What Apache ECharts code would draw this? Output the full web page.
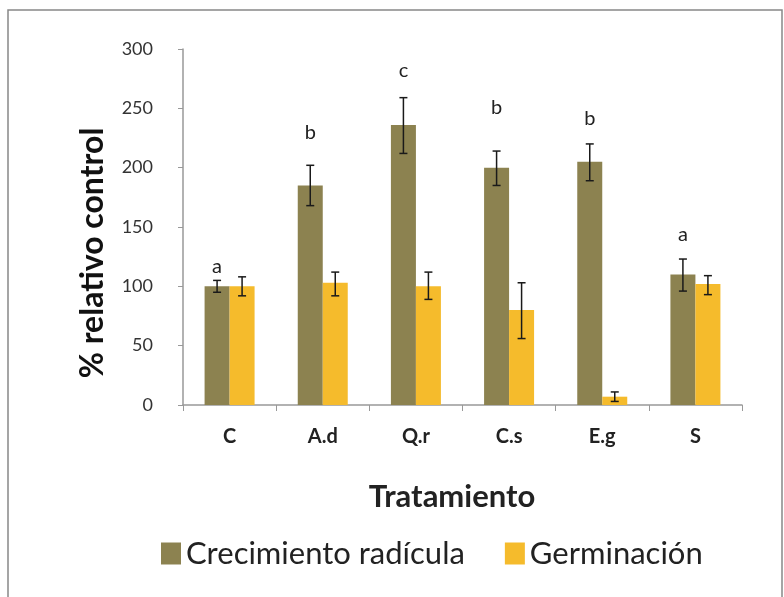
<!DOCTYPE html>
<html><head><meta charset="utf-8">
<script src="https://cdn.jsdelivr.net/npm/echarts@6/dist/echarts.min.js"></script>
<style>html,body{margin:0;padding:0;background:#fff}#c{width:784px;height:597px}</style>
</head><body><div id="c"></div>
<script>
const categories = ['C','A.d','Q.r','C.s','E.g','S'];
const radicula = [100,185,236,200,205,110];
const radiculaLow = [95,168,212,185,189,96];
const radiculaHigh = [105,202,259,214,220,123];
const germinacion = [100,103,100,80,7,102];
const germinacionLow = [92,92,89,56,3,93];
const germinacionHigh = [108,112,112,103,11,109];
const letters = ['a','b','c','b','b','a'];
const letterPos = [117,230,282,251,241,144];
const yTicks = [0,50,100,150,200,250,300];
const xTitle = 'Tratamiento';
const yTitle = '% relativo control';

const FONT = 'Lato, "Open Sans", sans-serif';
const BARW = 25;
const chart = echarts.init(document.getElementById('c'));

function errItem(offset, lowArr, highArr){
  return function(params, api){
    const i = params.dataIndex;
    const lo = api.coord([i, lowArr[i]]);
    const hi = api.coord([i, highArr[i]]);
    const x = lo[0] + offset;
    const cap = 4;
    const st = {stroke:'#1a1a1a', lineWidth:1.5};
    return {type:'group', children:[
      {type:'line', shape:{x1:x,y1:lo[1],x2:x,y2:hi[1]}, style:st},
      {type:'line', shape:{x1:x-cap,y1:lo[1],x2:x+cap,y2:lo[1]}, style:st},
      {type:'line', shape:{x1:x-cap,y1:hi[1],x2:x+cap,y2:hi[1]}, style:st}
    ]};
  };
}

chart.setOption({
  animation:false,
  graphic:[
    {type:'rect', shape:{x:8,y:10,width:774,height:600}, style:{fill:'none', stroke:'#888', lineWidth:1.5}, silent:true, z:-1},
    {type:'text', x:93, y:253, rotation:Math.PI/2, style:{text:yTitle, align:'center', verticalAlign:'middle', font:'bold 32px '+FONT, fill:'#111'}},
    {type:'text', x:452, y:497, style:{text:xTitle, align:'center', verticalAlign:'middle', font:'bold 31px '+FONT, fill:'#222'}}
  ],
  grid:{left:183,right:42,top:49,bottom:192},
  legend:{
    top:533, left:156, itemWidth:20, itemHeight:22, itemGap:40,
    icon:'rect',
    textStyle:{fontFamily:FONT, fontSize:31, color:'#222'},
    data:['Crecimiento radícula','Germinación']
  },
  xAxis:{
    type:'category', data:categories,
    axisLine:{lineStyle:{color:'#999', width:1.5}},
    axisTick:{show:true, length:6, lineStyle:{color:'#999'}},
    axisLabel:{fontFamily:FONT, fontWeight:'bold', fontSize:20, color:'#222', margin:22}
  },
  yAxis:{
    type:'value', min:0, max:300, interval:50,
    axisLine:{show:true, lineStyle:{color:'#999', width:1.5}},
    axisTick:{show:true, length:5, lineStyle:{color:'#999'}},
    splitLine:{show:false},
    axisLabel:{fontFamily:FONT, fontSize:18, color:'#333', margin:30,
      formatter:v=>yTicks.includes(v)?String(v):''}
  },
  series:[
    {name:'Crecimiento radícula', type:'bar', data:radicula, barWidth:BARW, barGap:'0%', itemStyle:{color:'#8c8250'}},
    {name:'Germinación', type:'bar', data:germinacion, barWidth:BARW, itemStyle:{color:'#f5bb2c'}},
    {type:'custom', data:radicula.map((v,i)=>[i,v]), renderItem:errItem(-BARW/2, radiculaLow, radiculaHigh), z:10, silent:true},
    {type:'custom', data:germinacion.map((v,i)=>[i,v]), renderItem:errItem(BARW/2, germinacionLow, germinacionHigh), z:10, silent:true},
    {type:'custom', data:letterPos.map((v,i)=>[i,v]), z:10, silent:true,
      renderItem:function(params, api){
        const i = params.dataIndex;
        const p = api.coord([i, letterPos[i]]);
        return {type:'text', style:{text:letters[i], x:p[0]-BARW/2, y:p[1], align:'center', verticalAlign:'middle', font:'20px '+FONT, fill:'#222'}};
      }}
  ]
});
</script></body></html>
